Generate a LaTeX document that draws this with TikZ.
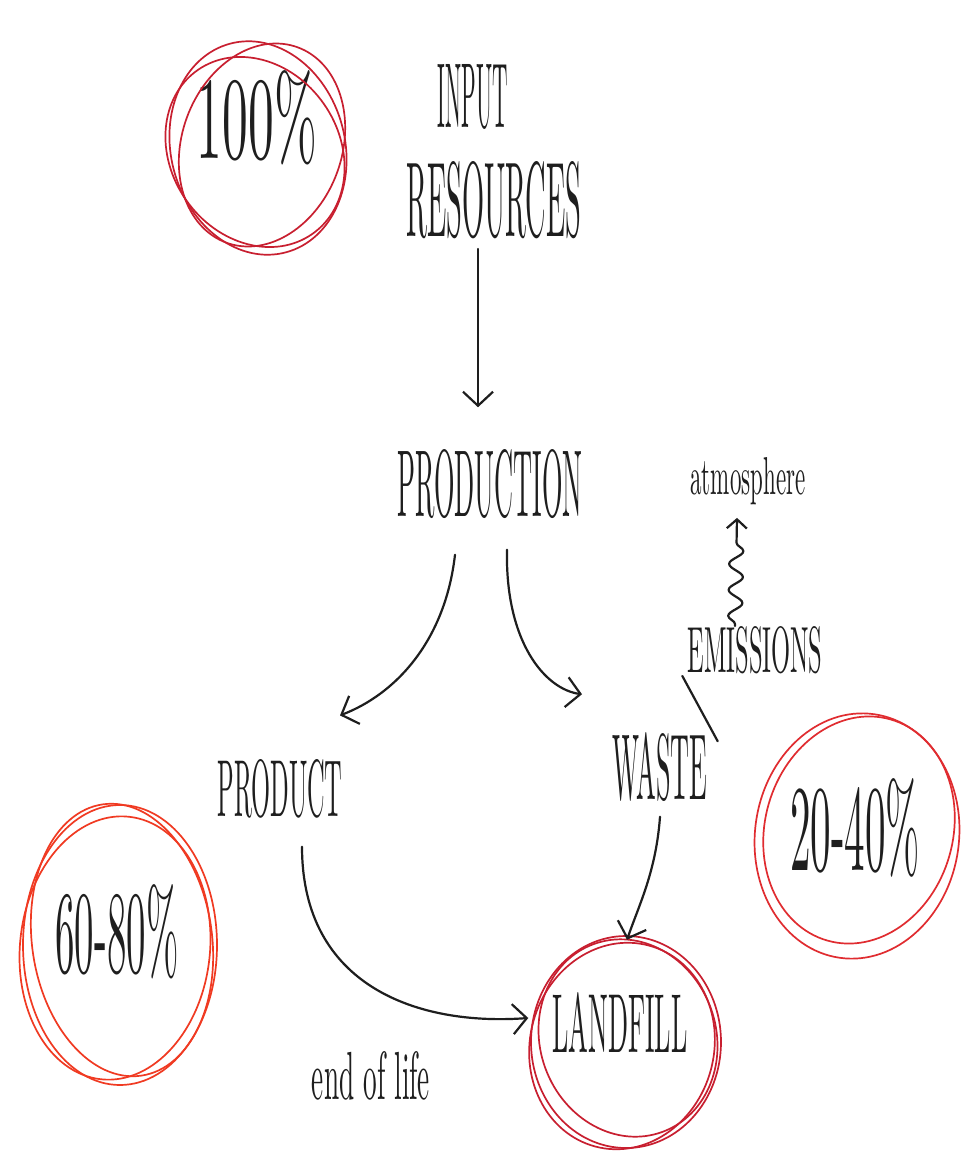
\documentclass[tikz,border=0pt]{standalone}
\usepackage{graphicx}
\usetikzlibrary{arrows.meta,calc,decorations.pathmorphing}
\definecolor{inkc}{HTML}{1E1E1E}
\definecolor{ringdark}{HTML}{C81F30}
\definecolor{ringmid}{HTML}{E02C30}
\definecolor{ringlight}{HTML}{F03A22}
% hand lettering: a text squeezed into a box of given width and height
\newcommand\lettering[3]{\resizebox{#1pt}{#2pt}{#3}}

\tikzset{
  label/.style={inner sep=0pt, text=inkc},
  ink/.style={draw=inkc, line width=2.2pt, line cap=round, line join=round},
  arr/.style={ink, -{Straight Barb[length=14pt,width=30pt]}},
  smallarr/.style={ink, -{Straight Barb[length=9pt,width=20pt]}},
  ringA/.style={draw=ringdark, line width=1.7pt},
  ringB/.style={draw=ringmid, line width=1.7pt},
  ringC/.style={draw=ringlight, line width=1.7pt},
}

\begin{document}
\begin{tikzpicture}[x=1pt,y=-1pt]
\fill[white] (0,0) rectangle (961,1151);
\useasboundingbox (0,0) rectangle (961,1151);

% labels
\node[label] (input) at (473,97) {\lettering{70}{63}{INPUT}};
\node[label] (resources) at (494,200) {\lettering{175}{75}{RESOURCES}};
\node[label] (production) at (490,484) {\lettering{185}{67}{PRODUCTION}};
\node[label] (product) at (280,789) {\lettering{125}{57}{PRODUCT}};
\node[label] (waste) at (660,767) {\lettering{95}{67}{WASTE}};
\node[label] (emissions) at (755,650) {\lettering{135}{46}{EMISSIONS}};
\node[label] (atmosphere) at (748,481) {\lettering{115}{37}{atmosphere}};
\node[label] (landfill) at (620,1022) {\lettering{135}{60}{LANDFILL}};
\node[label] (endoflife) at (371,1076) {\lettering{118}{48}{end of life}};
\node[label] (p100) at (257,118) {\lettering{120}{88}{100\%}};
\node[label] (p2040) at (855,828) {\lettering{130}{92}{20-40\%}};
\node[label] (p6080) at (117,932) {\lettering{123}{88}{60-80\%}};

% red loops around the shares
\draw[ringA, rotate around={15:(258,148)}] (258,148) ellipse [x radius=87, y radius=108];
\draw[ringA, rotate around={-20:(262,145)}] (262,145) ellipse [x radius=80, y radius=104];
\draw[ringA, rotate around={35:(255,152)}] (255,152) ellipse [x radius=84, y radius=100];

\draw[ringB, rotate around={-8:(857,836)}] (857,836) ellipse [x radius=102, y radius=123];
\draw[ringB, rotate around={-16:(859,830)}] (859,830) ellipse [x radius=94, y radius=115];

\draw[ringC] (120,945) ellipse [x radius=97, y radius=140];
\draw[ringC, rotate around={8:(122,940)}] (122,940) ellipse [x radius=90, y radius=137];
\draw[ringC, rotate around={-6:(115,948)}] (115,948) ellipse [x radius=95, y radius=132];

\draw[ringA] (626,1042) ellipse [x radius=95, y radius=106];
\draw[ringA, rotate around={20:(628,1038)}] (628,1038) ellipse [x radius=88, y radius=100];
\draw[ringA, rotate around={-15:(622,1046)}] (622,1046) ellipse [x radius=92, y radius=104];

% flows
\draw[arr] ($(resources.south)+(-16,10)$) -- ($(production.north)+(-12,-42)$);
\draw[arr] ($(production.south)+(-35,36)$) .. controls +(-10,87) and +(55,-21) .. ($(product.north)+(60,-44)$);
\draw[arr] ($(production.south)+(17,31)$) .. controls +(-2,92) and +(-37,-5) .. ($(waste.north)+(-78,-38)$);
\draw[arr] ($(product.south)+(22,28)$) .. controls +(0,140) and +(-110,8) .. ($(landfill.west)+(-24,-4)$);
\draw[arr] ($(waste.south)+(0,15)$) .. controls +(-4,55) and +(12,-35) .. ($(landfill.north)+(7,-52)$);
\draw[ink] ($(waste.north east)+(10,9)$) -- ($(emissions.south west)+(-5,2)$);
\draw[smallarr, decorate, decoration={snake, segment length=26pt, amplitude=7pt, pre length=2pt, post length=14pt}]
  ($(emissions.north)+(-20,0)$) -- ($(atmosphere.south)+(-11,13)$);
\end{tikzpicture}
\end{document}
